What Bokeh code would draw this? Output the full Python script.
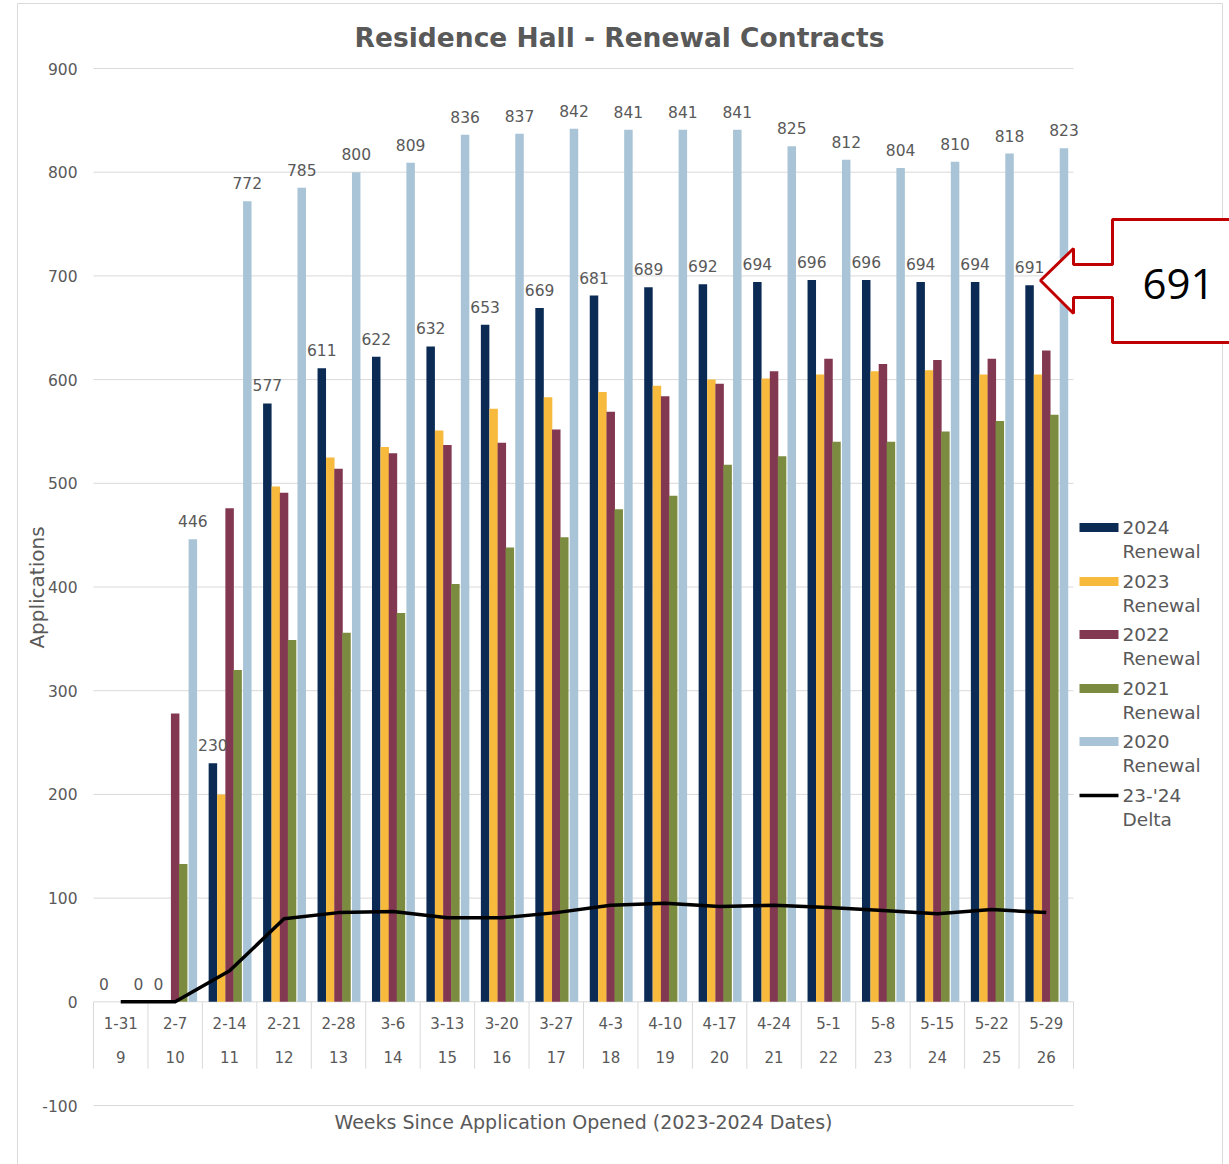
import math
from bokeh.plotting import figure
from bokeh.models import Label, PolyAnnotation, BoxAnnotation, Range1d
from bokeh.core.properties import value
from bokeh.embed import file_html
from bokeh.resources import INLINE

# ---------------- data ----------------
dates = ["1-31", "2-7", "2-14", "2-21", "2-28", "3-6", "3-13", "3-20", "3-27",
         "4-3", "4-10", "4-17", "4-24", "5-1", "5-8", "5-15", "5-22", "5-29"]
weeks = ["9", "10", "11", "12", "13", "14", "15", "16", "17",
         "18", "19", "20", "21", "22", "23", "24", "25", "26"]
renewal_2024 = [0, 0, 230, 577, 611, 622, 632, 653, 669, 681, 689, 692, 694, 696, 696, 694, 694, 691]
renewal_2023 = [0, 0, 200, 497, 525, 535, 551, 572, 583, 588, 594, 600, 601, 605, 608, 609, 605, 605]
renewal_2022 = [0, 278, 476, 491, 514, 529, 537, 539, 552, 569, 584, 596, 608, 620, 615, 619, 620, 628]
renewal_2021 = [0, 133, 320, 349, 356, 375, 403, 438, 448, 475, 488, 518, 526, 540, 540, 550, 560, 566]
renewal_2020 = [0, 446, 772, 785, 800, 809, 836, 837, 842, 841, 841, 841, 825, 812, 804, 810, 818, 823]
delta_23_24 = [0, 0, 30, 80, 86, 87, 81, 81, 86, 93, 95, 92, 93, 91, 88, 85, 89, 86]
series_names = ["2024 Renewal", "2023 Renewal", "2022 Renewal", "2021 Renewal", "2020 Renewal"]
delta_name = "23-'24 Delta"
y_ticks = [-100, 0, 100, 200, 300, 400, 500, 600, 700, 800, 900]
callout_text = "691"
chart_title = "Residence Hall - Renewal Contracts"
x_title = "Weeks Since Application Opened (2023-2024 Dates)"
y_title = "Applications"

# ---------------- style ----------------
colors = ["#0B2B54", "#F8BA3D", "#833852", "#7B8B40", "#A9C4D6"]
offsets = [-0.307, -0.151, 0.0, 0.147, 0.325]
bar_w = 0.156
GRAY = "#595959"
LIGHT = "#D9D9D9"
FONT = "DejaVu Sans"
W, H = 1229, 1164

n = len(dates)
centers = [i + 0.5 for i in range(n)]

# pixel -> data helpers; the category area spans px 93..1073, value axis 900 at 68, -100 at 1105
FL, FR, FT, FB = 93.0, 1073.0, 68.0, 1105.0
def dx(px):
    return (px - FL) * n / (FR - FL)
def dy(py):
    return 900 - (py - FT) * 1000.0 / (FB - FT)

p = figure(width=W, height=H, x_range=Range1d(dx(0), dx(W)), y_range=Range1d(dy(H), dy(0)),
           output_backend="svg", toolbar_location=None, x_axis_location=None, y_axis_location=None,
           title=None, min_border=0)
p.outline_line_color = None
p.background_fill_color = "white"
p.border_fill_color = "white"
p.xgrid.visible = False
p.ygrid.visible = False

# horizontal gridlines
p.segment(x0=[0] * len(y_ticks), y0=y_ticks, x1=[n] * len(y_ticks), y1=y_ticks,
          line_color=LIGHT, line_width=1)
# value tick labels
p.text(x=[dx(77)] * len(y_ticks), y=y_ticks, text=[str(t) for t in y_ticks],
       text_font=value(FONT), text_font_size="15.5px", text_color=GRAY,
       text_align="right", text_baseline="middle")

# category table separators
bounds = list(range(n + 1))
p.segment(x0=bounds, y0=[0] * (n + 1), x1=bounds, y1=[-64.5] * (n + 1), line_color=LIGHT, line_width=1)

# bars
all_series = [renewal_2024, renewal_2023, renewal_2022, renewal_2021, renewal_2020]
for vals, col, off in zip(all_series, colors, offsets):
    p.vbar(x=[c + off for c in centers], top=vals, bottom=0, width=bar_w,
           fill_color=col, line_color=None)

# delta line
p.line(x=centers, y=delta_23_24, line_color="black", line_width=3.5, line_join="round")

# data labels (2024 and 2020)
for vals, off in ((renewal_2024, offsets[0]), (renewal_2020, offsets[4])):
    p.text(x=[c + off for c in centers], y=vals, text=[str(v) for v in vals],
           text_font=value(FONT), text_font_size="15.5px", text_color=GRAY,
           text_align="center", text_baseline="middle", y_offset=-18)

# category labels (two rows)
p.text(x=centers, y=[-20] * n, text=dates, text_font=value(FONT), text_font_size="15px",
       text_color=GRAY, text_align="center", text_baseline="middle")
p.text(x=centers, y=[-53] * n, text=weeks, text_font=value(FONT), text_font_size="15px",
       text_color=GRAY, text_align="center", text_baseline="middle")

# chart border
p.add_layout(BoxAnnotation(left=dx(17), right=dx(1222), top=dy(3), bottom=dy(1250),
                           fill_alpha=0, line_color=LIGHT, line_alpha=1, line_width=1))

# titles
p.add_layout(Label(x=dx(619), y=dy(37), text=chart_title, text_align="center", text_baseline="middle",
                   text_font=FONT, text_font_style="bold", text_font_size="26.5px", text_color=GRAY))
p.add_layout(Label(x=dx(583), y=dy(1121), text=x_title, text_align="center", text_baseline="middle",
                   text_font=FONT, text_font_size="19px", text_color=GRAY))
p.add_layout(Label(x=dx(36), y=dy(587), text=y_title, text_align="center", text_baseline="middle",
                   angle=math.pi / 2, text_font=FONT, text_font_size="20px", text_color=GRAY))

# legend
leg_y = [527, 581, 634, 688, 741]
for name, col, yc in zip(series_names, colors, leg_y):
    p.add_layout(BoxAnnotation(left=dx(1079), right=dx(1118), top=dy(yc - 4.5), bottom=dy(yc + 4.5),
                               fill_color=col, fill_alpha=1, line_color=None))
    a, b = name.split(" ")
    p.add_layout(Label(x=dx(1122), y=dy(yc), text=a, text_align="left", text_baseline="middle",
                       text_font=FONT, text_font_size="18.5px", text_color=GRAY))
    p.add_layout(Label(x=dx(1122), y=dy(yc + 24), text=b, text_align="left", text_baseline="middle",
                       text_font=FONT, text_font_size="18.5px", text_color=GRAY))
yc = 795
p.add_layout(BoxAnnotation(left=dx(1079), right=dx(1118), top=dy(yc - 1.7), bottom=dy(yc + 1.7),
                           fill_color="black", fill_alpha=1, line_color=None))
a, b = delta_name.split(" ")
p.add_layout(Label(x=dx(1122), y=dy(yc), text=a, text_align="left", text_baseline="middle",
                   text_font=FONT, text_font_size="18.5px", text_color=GRAY))
p.add_layout(Label(x=dx(1122), y=dy(yc + 24), text=b, text_align="left", text_baseline="middle",
                   text_font=FONT, text_font_size="18.5px", text_color=GRAY))

# callout arrow
pts = [(1040, 280), (1073, 248), (1073, 264), (1112, 264), (1112, 219), (1240, 219),
       (1240, 342), (1112, 342), (1112, 297), (1073, 297), (1073, 313)]
p.add_layout(PolyAnnotation(xs=[dx(a) for a, _ in pts], ys=[dy(b) for _, b in pts],
                            fill_color="white", fill_alpha=1, line_color="#C00000", line_alpha=1,
                            line_width=3))
p.add_layout(Label(x=dx(1178), y=dy(283), text=callout_text, text_align="center", text_baseline="middle",
                   text_font="Open Sans", text_font_size="42px", text_color="black"))

open("out.html", "w").write(file_html(p, INLINE))
